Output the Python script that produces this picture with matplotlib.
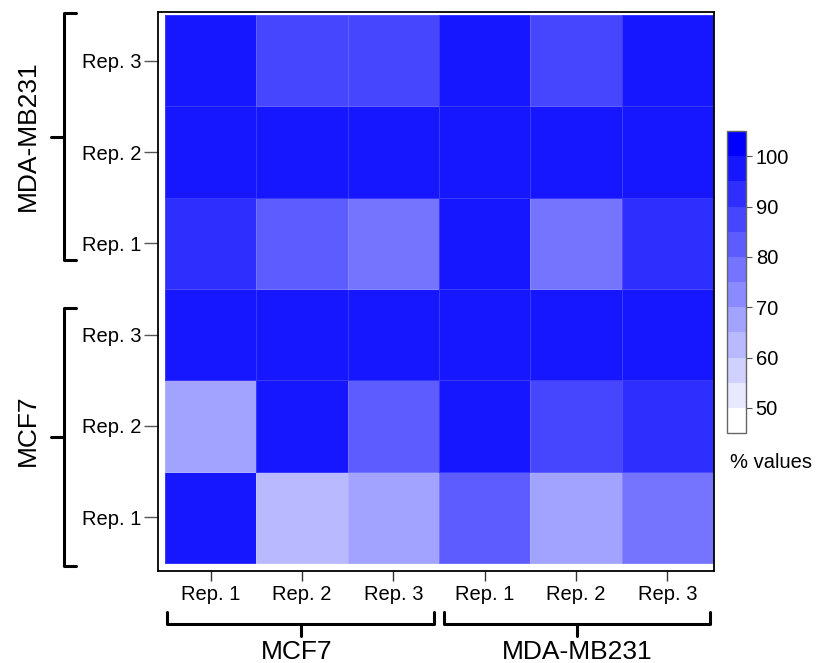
import numpy as np
import matplotlib
matplotlib.use("Agg")
import matplotlib.pyplot as plt
from matplotlib.colors import ListedColormap, BoundaryNorm
from matplotlib.lines import Line2D

plt.rcParams['font.family'] = ['Liberation Sans', 'DejaVu Sans']

# data
col_labels = ["Rep. 1", "Rep. 2", "Rep. 3", "Rep. 1", "Rep. 2", "Rep. 3"]
row_labels = ["Rep. 1", "Rep. 2", "Rep. 3", "Rep. 1", "Rep. 2", "Rep. 3"]  # bottom to top
groups = ["MCF7", "MDA-MB231"]

mcf7_rep1 = [98, 63, 68, 83, 68, 78]
mcf7_rep2 = [68, 98, 83, 98, 88, 93]
mcf7_rep3 = [98, 98, 98, 98, 98, 98]
mda_rep1 = [93, 83, 78, 98, 78, 93]
mda_rep2 = [98, 98, 98, 98, 98, 98]
mda_rep3 = [98, 88, 88, 98, 88, 98]

bounds = np.arange(45, 106, 5)
cb_ticks = [50, 60, 70, 80, 90, 100]

Z = np.array([mcf7_rep1, mcf7_rep2, mcf7_rep3, mda_rep1, mda_rep2, mda_rep3])

W, H = 819, 663
fig = plt.figure(figsize=(W / 100, H / 100), dpi=100)


def fx(x):
    return x / W


def fy(y):
    return 1 - y / H


# colour bins: white -> blue
n = len(bounds) - 1
cols = [(1 - k / (n - 1), 1 - k / (n - 1), 1.0) for k in range(n)]
cmap = ListedColormap(cols)
norm = BoundaryNorm(bounds, n)

ax = fig.add_axes([fx(158), fy(571), (714 - 158) / W, (571 - 12) / H])
ax.pcolormesh(np.arange(7), np.arange(7), Z, cmap=cmap, norm=norm,
              edgecolors=(1, 1, 1, 0.15), linewidth=0.5)
ax.set_xlim(-0.077, 6.01)
ax.set_ylim(-0.088, 6.033)
ax.set_xticks(np.arange(6) + 0.5)
ax.set_xticklabels(col_labels, fontsize=14.5)
ax.set_yticks(np.arange(6) + 0.5)
ax.set_yticklabels(row_labels, fontsize=14.5)
ax.tick_params(axis='x', length=7, width=1, color='#333333', pad=3)
ax.tick_params(axis='y', length=10, width=1, color='#555555', pad=2)
for s in ax.spines.values():
    s.set_linewidth(1.3)
    s.set_color('black')

# colour bar
cax = fig.add_axes([fx(727), fy(433), 19 / W, (433 - 131) / H])
cb = fig.colorbar(plt.cm.ScalarMappable(norm=norm, cmap=cmap), cax=cax,
                  boundaries=bounds, ticks=cb_ticks)
cb.minorticks_off()
cb.outline.set_edgecolor('#666666')
cb.outline.set_linewidth(1)
cax.tick_params(labelsize=14.5, length=4, color='#555555', pad=3)
fig.text(fx(771), fy(462), "% values", fontsize=14.5, ha='center', va='center')


def line(xs, ys):
    fig.lines.append(Line2D([fx(v) for v in xs], [fy(v) for v in ys],
                            transform=fig.transFigure, color='black', lw=2.2,
                            solid_capstyle='round', solid_joinstyle='round'))


# bottom brackets
for (x0, x1), name, tx in zip([(167, 434), (444, 710)], groups, [297, 577]):
    xm = (x0 + x1) / 2
    line([x0, x0, x1, x1], [612, 624, 624, 612])
    line([xm, xm], [624, 636])
    fig.text(fx(tx), fy(659), name, fontsize=19, ha='center', va='baseline')

# left brackets
for (y0, y1), name, ty in zip([(308, 566), (13, 260)], groups, [430, 136]):
    ym = (y0 + y1) / 2
    line([76, 64, 64, 76], [y0, y0, y1, y1])
    line([64, 51], [ym, ym])
    fig.text(fx(28), fy(ty), name, fontsize=19, ha='center', va='center',
             rotation=90)

fig.savefig("out.png", dpi=100)
